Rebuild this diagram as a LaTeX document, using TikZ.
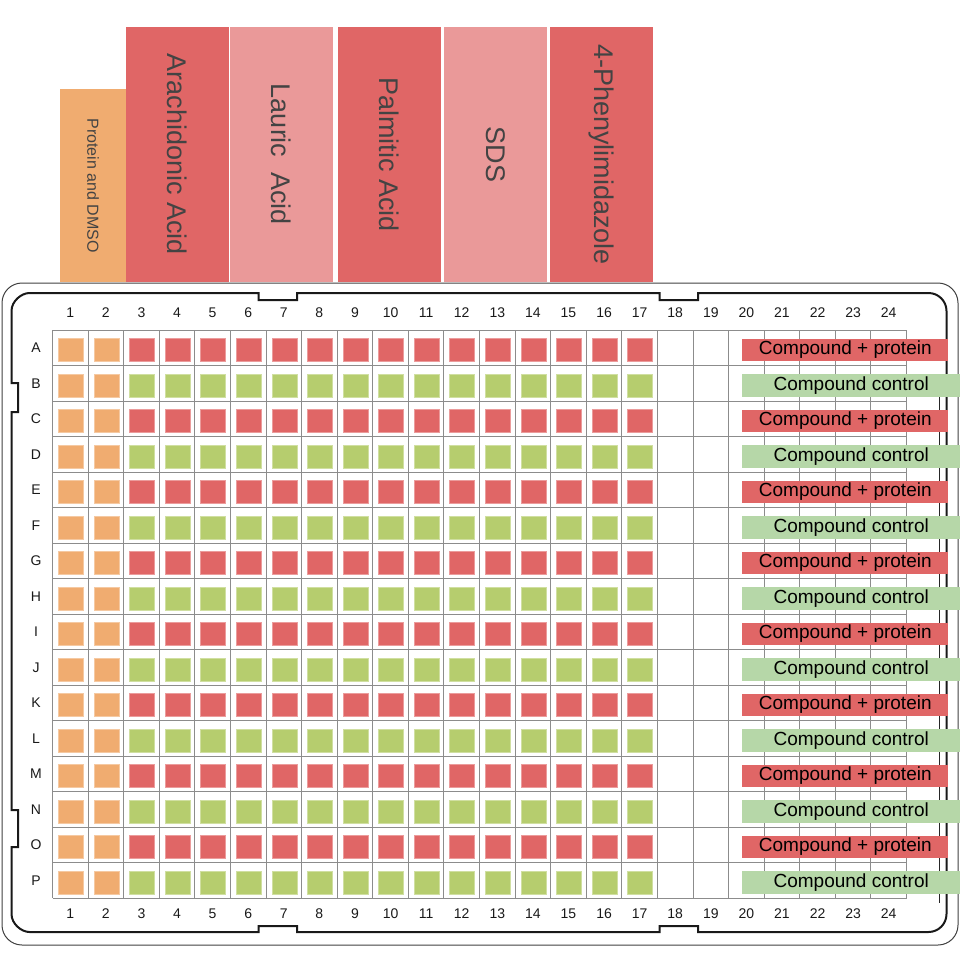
\documentclass[tikz,border=0pt]{standalone}
\usepackage{fontspec}
\setmainfont{Liberation Sans}
\definecolor{wellorange}{HTML}{F0AC70}
\definecolor{wellred}{HTML}{E06666}
\definecolor{wellgreen}{HTML}{B6CD6E}
\definecolor{palered}{HTML}{EA9999}
\definecolor{palegreen}{HTML}{B6D7A8}
\definecolor{inkgray}{HTML}{434343}
\definecolor{gridgray}{HTML}{8C8C8C}
\tikzset{
  compound/.style={rotate=-90, inner sep=0pt, text=inkgray, font=\fontsize{27}{30}\selectfont},
  well/.style={rectangle, inner sep=0pt, minimum width=25pt, minimum height=23pt, fill=#1, draw=#1!65!white, line width=0.6pt},
  sidelabel/.style={rectangle, inner sep=0pt, minimum height=22.5pt, font=\fontsize{19}{21}\selectfont},
  axislabel/.style={inner sep=0pt, font=\fontsize{14}{16}\selectfont, text=black!90},
  gridline/.style={gridgray, line width=0.9pt},
}
\begin{document}
\begin{tikzpicture}[x=1pt,y=-1pt]
  \useasboundingbox (0,0) rectangle (971,959);

  % compounds above the plate
  \node[compound, fill=wellorange, minimum width=193pt, minimum height=66pt,
        font=\fontsize{16}{18}\selectfont] (dmso) at (93,185.5) {Protein and DMSO};
  \node[compound, fill=wellred, minimum width=255pt, minimum height=102.5pt] (arach) at (177.25,154.5) {Arachidonic Acid};
  \node[compound, fill=palered, minimum width=255pt, minimum height=103pt] (lauric) at (281.5,154.5) {Lauric\ \ Acid};
  \node[compound, fill=wellred, minimum width=255pt, minimum height=103pt] (palmitic) at (389.5,154.5) {Palmitic Acid};
  \node[compound, fill=palered, minimum width=255pt, minimum height=103pt] (sds) at (495.5,154.5) {SDS};
  \node[compound, fill=wellred, minimum width=255pt, minimum height=103pt] (phenyl) at (601.5,154.5) {4-Phenylimidazole};

  % plate outline
  \draw[line width=1pt, black!75, rounded corners=20pt] (2,283) rectangle (958,945);
  \draw[line width=2pt, black!90] (11.5,383) -- (11.5,311)
    .. controls (11.5,301.06) and (21.56,293) .. (29.5,293)
    -- (258.5,293) -- (258.5,300) -- (297,300) -- (297,293) -- (659.5,293) -- (659.5,300) -- (698,300) -- (698,293)
    -- (928.5,293) .. controls (938.44,293) and (946.5,301.06) .. (946.5,311)
    -- (946.5,914) .. controls (946.5,923.94) and (938.44,932) .. (928.5,932)
    -- (698,932) -- (698,926) -- (659.5,926) -- (659.5,932) -- (297,932) -- (297,926) -- (258.5,926) -- (258.5,932)
    -- (29.5,932) .. controls (21.56,932) and (11.5,923.94) .. (11.5,914)
    -- (11.5,847) -- (18,847) -- (18,810) -- (11.5,810) -- (11.5,412) -- (18,412) -- (18,383) -- cycle;
  \draw[line width=1.5pt, black!85] (939.5,395) -- (939.5,903);

  % grid
  \foreach \c in {0,...,24}
    \draw[gridline] ({52.5+\c*35.583},330) -- ({52.5+\c*35.583},898);
  \foreach \r in {0,...,16}
    \draw[gridline] (52.5,{330+\r*35.5}) -- (906.5,{330+\r*35.5});

  % column numbers and row letters
  \foreach \c in {1,...,24}{
    \node[axislabel] (top-\c) at ({52.5+(\c-0.5)*35.583},313) {\c};
    \node[axislabel] (bot-\c) at ({52.5+(\c-0.5)*35.583},914) {\c};
  }
  \foreach \l [count=\r from 0] in {A,B,C,D,E,F,G,H,I,J,K,L,M,N,O,P}
    \node[axislabel] (row-\l) at (36,{330+\r*35.5+17.75}) {\l};

  % wells
  \foreach \r in {0,...,15}{
    \foreach \c in {0,...,16}{
      \ifnum\c<2 \def\wc{wellorange}\else\ifodd\r \def\wc{wellgreen}\else\def\wc{wellred}\fi\fi
      \node[well=\wc] (w-\r-\c) at ({52.5+\c*35.583+18.3},{330+\r*35.5+20}) {};
    }
  }

  % labels over columns 20-24
  \foreach \r in {0,...,15}{
    \ifodd\r
      \node[sidelabel, fill=palegreen, minimum width=217.7pt] (lab-\r) at (851.2,{330+\r*35.5+20}) {Compound control};
    \else
      \node[sidelabel, fill=wellred, minimum width=206pt] (lab-\r) at (845.3,{330+\r*35.5+20}) {Compound + protein};
    \fi
  }
\end{tikzpicture}
\end{document}
